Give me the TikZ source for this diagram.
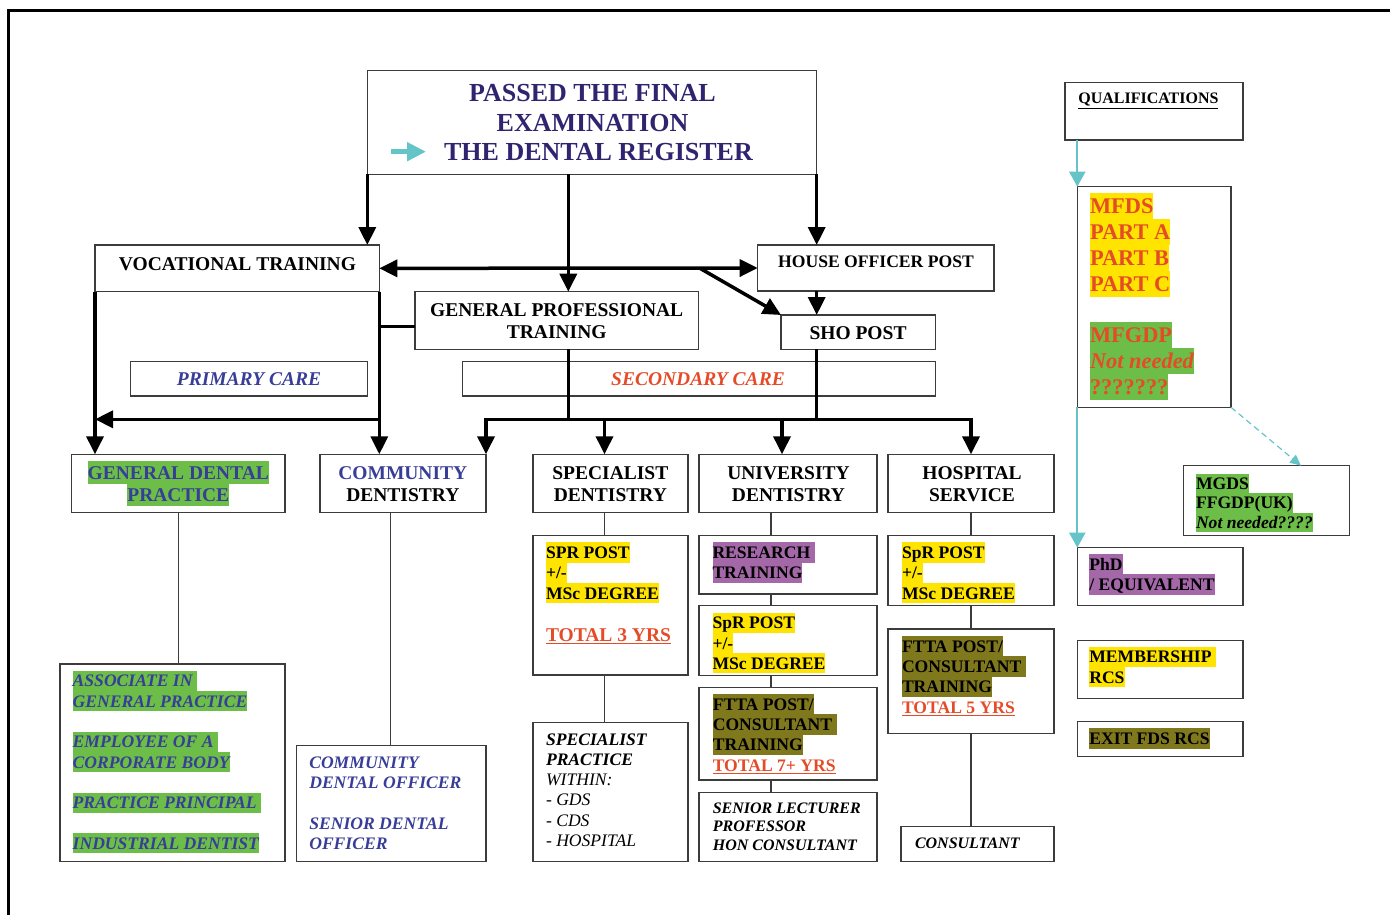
\documentclass[tikz,border=0pt]{standalone}
\usepackage{fontspec}
\setmainfont{Liberation Serif}
\usetikzlibrary{arrows.meta}
\definecolor{ttl}{RGB}{48,36,112}
\definecolor{blu}{RGB}{56,62,152}
\definecolor{redc}{RGB}{230,75,40}
\definecolor{grn}{RGB}{108,190,72}
\definecolor{ylw}{RGB}{255,228,0}
\definecolor{prp}{RGB}{164,104,168}
\definecolor{olv}{RGB}{128,120,28}
\definecolor{cyanc}{RGB}{100,196,200}
\definecolor{bxgray}{RGB}{60,60,60}
\setlength\fboxsep{0pt}
\newcommand\hlrow[2]{\colorbox{#1}{\rule[-0.2\baselineskip]{0pt}{\baselineskip}#2}}
\newcommand\plrow[1]{\rule[-0.2\baselineskip]{0pt}{\baselineskip}#1}
\newcommand\fT{\fontsize{26}{29.3}\selectfont}
\newcommand\fA{\fontsize{19.5}{22.3}\selectfont}
\newcommand\fB{\fontsize{17.6}{20.3}\selectfont}
\newcommand\fC{\fontsize{16}{18.4}\selectfont}
\newcommand\fQ{\fontsize{22.4}{25.8}\selectfont}
\newcommand\bxn[5]{\node[bx, minimum width={#4-#2}, minimum height={#5-#3}] (#1) at (#2,#3) {};}
\tikzset{
  bx/.style={draw=bxgray, line width=1.2pt, inner sep=0pt, outer sep=0pt, anchor=north west},
  tx/.style={inner sep=0pt, outer sep=0pt, anchor=north west, align=left},
  ct/.style={tx, font=\fB\bfseries},
  hd/.style={inner sep=0pt, outer sep=0pt, anchor=north, align=center, font=\fA\bfseries},
  one/.style={inner sep=0pt, outer sep=0pt, anchor=base},
  conn/.style={line width=3.5pt, -{Triangle[length=18pt,width=17pt]}},
  dconn/.style={line width=3.5pt, {Triangle[length=18pt,width=17pt]}-{Triangle[length=18pt,width=17pt]}},
  thk/.style={line width=3.5pt},
  thn/.style={draw=bxgray, line width=1.2pt},
  cyn/.style={draw=cyanc, line width=2pt, -{Triangle[length=15pt,width=16pt]}},
  cyd/.style={draw=cyanc, line width=1.2pt, dash pattern=on 6pt off 4pt, -{Triangle[length=11pt,width=10pt]}}
}
\begin{document}
\begin{tikzpicture}[x=1pt,y=-1pt]
\useasboundingbox (0,0) rectangle (1390,915);
% frame
\coordinate (fr1) at (8.3,915);
\coordinate (fr2) at (8.3,10.8);
\coordinate (fr3) at (1392,10.8);
\draw[line width=2.6pt] (fr1) -- (fr2) -- (fr3);
% helper coordinates
\coordinate (x569) at (568.3,0);
\coordinate (x604) at (604.5,0);
\coordinate (x782) at (782,0);
\coordinate (x771) at (771,0);
\coordinate (x391) at (390.7,0);
\coordinate (x1301) at (1301,0);
\coordinate (y327) at (0,326.7);
\coordinate (y419) at (0,419.3);
\coordinate (d0) at (700,268.3);
% boxes
\bxn{TB}{367.3}{70.7}{816.7}{174.3}
\bxn{VT}{95}{245}{379.3}{291.7}
\bxn{HO}{757.7}{245}{994}{291}
\bxn{GPT}{415}{291.7}{698.3}{349.3}
\bxn{SHO}{781}{315}{935.3}{349.3}
\bxn{PC}{130.7}{361.7}{367.3}{396}
\bxn{SC}{462.3}{361.5}{935.3}{396}
\bxn{GDP}{71.7}{454.3}{285}{512.3}
\bxn{CD}{320}{454.3}{486}{512.3}
\bxn{SD}{533}{454.3}{688}{512.3}
\bxn{UD}{699}{454.3}{877}{512.3}
\bxn{HS}{888}{454.3}{1054}{512.3}
\bxn{SPR}{533}{535.7}{688}{675}
\bxn{SP}{533}{722.3}{688}{861.7}
\bxn{RT}{699}{535.7}{877}{594}
\bxn{USPR}{699}{605.7}{877}{675.7}
\bxn{UFT}{699}{687.3}{877}{780}
\bxn{SL}{699}{792.3}{877}{861.7}
\bxn{HSPR}{888}{535.7}{1054}{605.7}
\bxn{HFT}{888}{629}{1054}{733.3}
\bxn{CONS}{901}{826.7}{1054}{861.7}
\bxn{GDPS}{60}{664}{285}{861.7}
\bxn{CDO}{296.7}{745.7}{486}{861.7}
\bxn{Q}{1065}{82.3}{1243}{140}
\bxn{MF}{1077.3}{186.7}{1231}{407.3}
\bxn{MG}{1183.3}{465.7}{1349.3}{535.7}
\bxn{PHD}{1077.3}{547.7}{1243}{605.7}
\bxn{MEM}{1077.3}{640.7}{1243}{698.7}
\bxn{EXIT}{1077.3}{721.7}{1243}{756.7}
% title
\node[tx, anchor=north, align=center, font=\fT\bfseries, text=ttl] (TBt) at (592.5,78.3)
  {\plrow{PASSED THE FINAL}\\\plrow{EXAMINATION}\\\plrow{\hspace*{12pt}THE DENTAL REGISTER}};
\coordinate (ar1) at (391,151.7);
\coordinate (ar2) at (426,151.7);
\draw[cyanc, line width=5pt, -{Triangle[length=19pt,width=18pt]}] (ar1) -- (ar2);
% single-line labels
\node[one, font=\fA\bfseries] (VTt) at (237.5,270) {VOCATIONAL TRAINING};
\node[one, font=\fB\bfseries] (HOt) at (876,267.3) {HOUSE OFFICER POST};
\node[one, font=\fA\bfseries] (SHOt) at (858,339) {SHO POST};
\node[one, font=\fA\bfseries\itshape, text=blu] (PCt) at (249,385.7) {PRIMARY CARE};
\node[one, font=\fA\bfseries\itshape, text=redc] (SCt) at (698,385.3) {SECONDARY CARE};
\node[hd] (GPTt) at (556.7,298.2) {\plrow{GENERAL PROFESSIONAL}\\\plrow{TRAINING}};
% headers
\node[hd, text=blu] (GDPt) at (178.3,461.2) {\hlrow{grn}{GENERAL DENTAL}\\\hlrow{grn}{PRACTICE}};
\node[hd] (CDt) at (402.8,461.2) {\plrow{\textcolor{blu}{COMMUNITY}}\\\plrow{DENTISTRY}};
\node[hd] (SDt) at (610.3,461.2) {\plrow{SPECIALIST}\\\plrow{DENTISTRY}};
\node[hd] (UDt) at (788.5,461.2) {\plrow{UNIVERSITY}\\\plrow{DENTISTRY}};
\node[hd] (HSt) at (972,461.2) {\plrow{HOSPITAL}\\\plrow{SERVICE}};
% specialist column
\node[ct] (SPRt) at (546,542.3) {\hlrow{ylw}{SPR POST}\\\hlrow{ylw}{+/-}\\\hlrow{ylw}{MSc DEGREE}};
\node[one, anchor=base west, font=\fA\bfseries, text=redc] (SPRtot) at (546,641.7) {\underline{TOTAL 3 YRS}};
\node[ct, font=\fB\itshape] (SPt) at (546,728.8) {\plrow{\textbf{SPECIALIST}}\\\plrow{\textbf{PRACTICE}}\\\plrow{WITHIN:}\\\plrow{- GDS}\\\plrow{- CDS}\\\plrow{- HOSPITAL}};
% university column
\node[ct] (RTt) at (712.5,542.3) {\hlrow{prp}{RESEARCH\ }\\\hlrow{prp}{TRAINING}};
\node[ct] (USPRt) at (712.5,612.5) {\hlrow{ylw}{SpR POST}\\\hlrow{ylw}{+/-}\\\hlrow{ylw}{MSc DEGREE}};
\node[ct] (UFTt) at (712.8,694) {\hlrow{olv}{FTTA POST/}\\\hlrow{olv}{CONSULTANT\ }\\\hlrow{olv}{TRAINING}\\\plrow{\textcolor{redc}{\underline{TOTAL 7+ YRS}}}};
\node[tx, font=\fC\bfseries\itshape] (SLt) at (712.8,798.6) {\plrow{SENIOR LECTURER}\\\plrow{PROFESSOR}\\\plrow{HON CONSULTANT}};
% hospital column
\node[ct] (HSPRt) at (902,542.3) {\hlrow{ylw}{SpR POST}\\\hlrow{ylw}{+/-}\\\hlrow{ylw}{MSc DEGREE}};
\node[ct] (HFTt) at (902,636) {\hlrow{olv}{FTTA POST/}\\\hlrow{olv}{CONSULTANT\ }\\\hlrow{olv}{TRAINING}\\\plrow{\textcolor{redc}{\underline{TOTAL 5 YRS}}}};
\node[one, anchor=base west, font=\fC\bfseries\itshape] (CONSt) at (915,848.3) {CONSULTANT};
% GDP / CDO
\node[ct, font=\fB\bfseries\itshape, text=blu] (GDPSt) at (72.7,670.7) {\hlrow{grn}{ASSOCIATE IN\ }\\\hlrow{grn}{GENERAL PRACTICE}\\\plrow{}\\\hlrow{grn}{EMPLOYEE OF A\ }\\\hlrow{grn}{CORPORATE BODY}\\\plrow{}\\\hlrow{grn}{PRACTICE PRINCIPAL\ }\\\plrow{}\\\hlrow{grn}{INDUSTRIAL DENTIST}};
\node[ct, font=\fB\bfseries\itshape, text=blu] (CDOt) at (309.3,752.1) {\plrow{COMMUNITY}\\\plrow{DENTAL OFFICER}\\\plrow{}\\\plrow{SENIOR DENTAL}\\\plrow{OFFICER}};
% qualifications
\node[one, anchor=base west, font=\fontsize{16}{18}\selectfont\bfseries] (Qt) at (1078.3,104) {\underline{QUALIFICATIONS}};
\node[tx, font=\fQ\bfseries, text=redc] (MFt) at (1090,193.3) {\hlrow{ylw}{MFDS}\\\hlrow{ylw}{PART A}\\\hlrow{ylw}{PART B}\\\hlrow{ylw}{PART C}\\\plrow{}\\\hlrow{grn}{MFGDP}\\\hlrow{grn}{\itshape Not needed}\\\hlrow{grn}{???????}};
\node[tx, font=\fontsize{17.6}{19.5}\selectfont\bfseries] (MGt) at (1196,473.7) {\hlrow{grn}{MGDS}\\\hlrow{grn}{FFGDP(UK)}\\\hlrow{grn}{\itshape Not needed????}};
\node[ct] (PHDt) at (1089.3,554) {\hlrow{prp}{PhD}\\\hlrow{prp}{/ EQUIVALENT}};
\node[ct] (MEMt) at (1089.3,646.7) {\hlrow{ylw}{MEMBERSHIP\ }\\\hlrow{ylw}{RCS}};
\node[ct] (EXITt) at (1089.3,728.3) {\hlrow{olv}{EXIT FDS RCS}};
% thick connectors
\draw[conn] (TB.south west) -- (TB.south west |- VT.north);
\draw[conn] (x569 |- TB.south) -- (x569 |- GPT.north);
\draw[conn] (TB.south east) -- (TB.south east |- HO.north);
\draw[dconn] (VT.east) -- (HO.west);
\draw[conn] (d0) -- (SHO.north west);
\draw[conn] (TB.south east |- HO.south) -- (TB.south east |- SHO.north);
\draw[thk] (GPT.west |- y327) -- (VT.south east |- y327);
\draw[conn] (VT.south west) -- (VT.south west |- GDP.north);
\draw[conn] (VT.south east) -- (VT.south east |- CD.north);
\draw[conn] (VT.south east |- y419) -- (VT.south west |- y419);
\draw[thk] (x569 |- GPT.south) -- (x569 |- y419);
\draw[thk] (TB.south east |- SHO.south) -- (TB.south east |- y419);
\draw[thk, line cap=rect] (CD.north east |- y419) -- (HS.north |- y419);
\draw[conn] (CD.north east |- y419) -- (CD.north east);
\draw[conn] (x604 |- y419) -- (x604 |- SD.north);
\draw[conn] (x782 |- y419) -- (x782 |- UD.north);
\draw[conn] (HS.north |- y419) -- (HS.north);
% thin connectors
\draw[thn] (GDP.south) -- (GDP.south |- GDPS.north);
\draw[thn] (x391 |- CD.south) -- (x391 |- CDO.north);
\draw[thn] (x604 |- SD.south) -- (x604 |- SPR.north);
\draw[thn] (x604 |- SPR.south) -- (x604 |- SP.north);
\draw[thn] (x771 |- UD.south) -- (x771 |- RT.north);
\draw[thn] (x771 |- RT.south) -- (x771 |- USPR.north);
\draw[thn] (x771 |- USPR.south) -- (x771 |- UFT.north);
\draw[thn] (x771 |- UFT.south) -- (x771 |- SL.north);
\draw[thn] (HS.south) -- (HS.south |- HSPR.north);
\draw[thn] (HS.south |- HSPR.south) -- (HS.south |- HFT.north);
\draw[thn] (HS.south |- HFT.south) -- (HS.south |- CONS.north);
% cyan connectors
\draw[cyn] (MF.north west |- Q.south) -- (MF.north west);
\draw[cyn] (MF.south west) -- (MF.south west |- PHD.north);
\draw[cyd] (MF.south east) -- (x1301 |- MG.north);
\end{tikzpicture}
\end{document}
